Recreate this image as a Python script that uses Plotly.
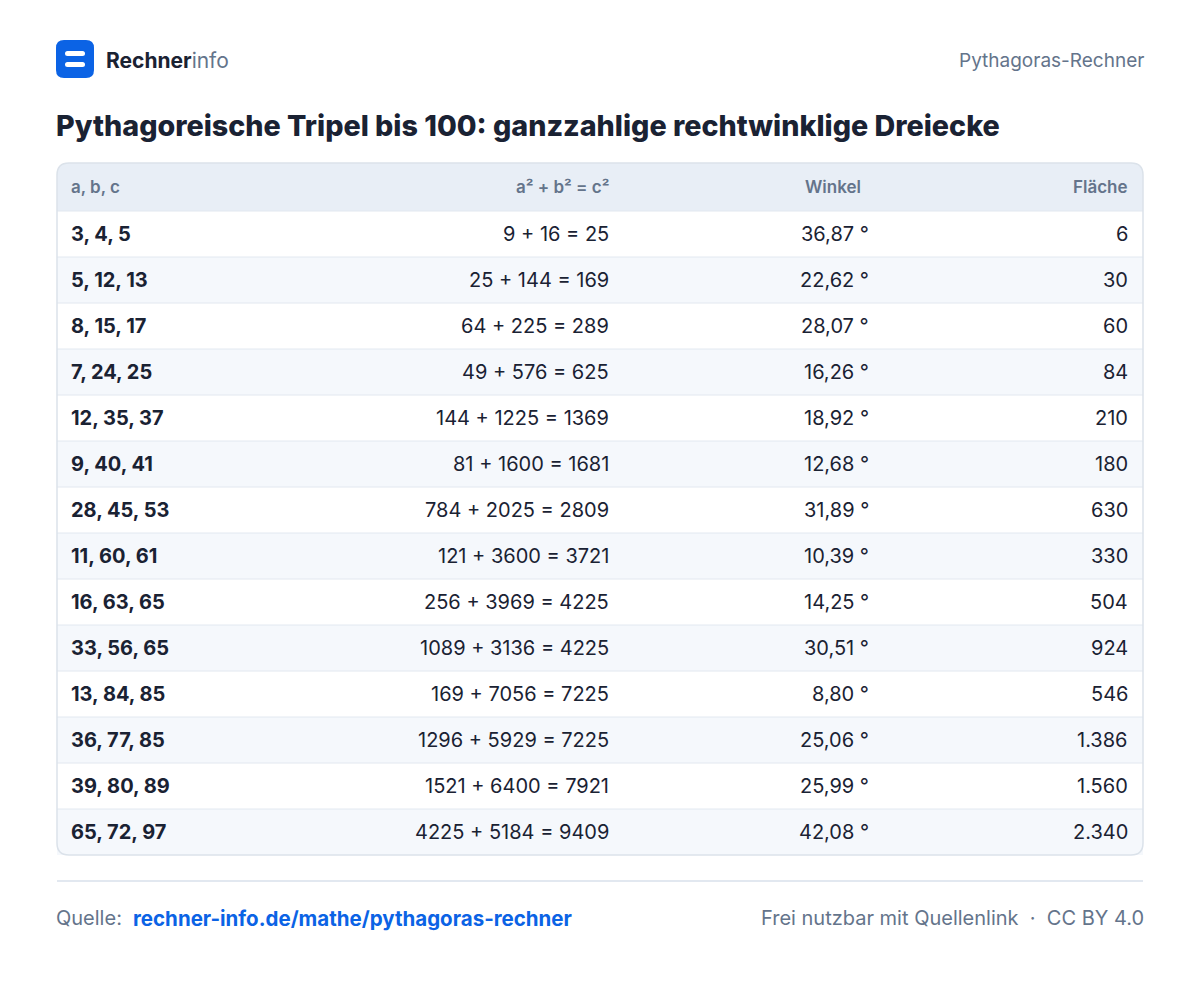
import plotly.graph_objects as go

triples = ["3, 4, 5","5, 12, 13","8, 15, 17","7, 24, 25","12, 35, 37","9, 40, 41","28, 45, 53",
           "11, 60, 61","16, 63, 65","33, 56, 65","13, 84, 85","36, 77, 85","39, 80, 89","65, 72, 97"]
equations = ["9 + 16 = 25","25 + 144 = 169","64 + 225 = 289","49 + 576 = 625","144 + 1225 = 1369",
             "81 + 1600 = 1681","784 + 2025 = 2809","121 + 3600 = 3721","256 + 3969 = 4225",
             "1089 + 3136 = 4225","169 + 7056 = 7225","1296 + 5929 = 7225","1521 + 6400 = 7921",
             "4225 + 5184 = 9409"]
angles = ["36,87 °","22,62 °","28,07 °","16,26 °","18,92 °","12,68 °","31,89 °","10,39 °","14,25 °",
          "30,51 °","8,80 °","25,06 °","25,99 °","42,08 °"]
areas = ["6","30","60","84","210","180","630","330","504","924","546","1.386","1.560","2.340"]
headers = ["a, b, c","a² + b² = c²","Winkel","Fläche"]

F = "Inter"
fig = go.Figure()
shapes, ann = [], []

def rr(x0, y0, x1, y1, r, **kw):
    p = (f"M{x0+r},{y0} L{x1-r},{y0} Q{x1},{y0} {x1},{y0+r} L{x1},{y1-r} Q{x1},{y1} {x1-r},{y1} "
         f"L{x0+r},{y1} Q{x0},{y1} {x0},{y1-r} L{x0},{y0+r} Q{x0},{y0} {x0+r},{y0} Z")
    return dict(type="path", path=p, xref="x", yref="y", **kw)

def txt(x, y, s, size, color, anchor="left", weight=400):
    ann.append(dict(x=x, y=y, xref="x", yref="y", text=s, showarrow=False,
                    xanchor=anchor, yanchor="middle", borderpad=0,
                    xshift=(-2 if anchor == "left" else 2),
                    font=dict(family=F, size=size, color=color, weight=weight)))

# logo
shapes.append(rr(56, 40, 94, 78, 8, fillcolor="#0b63e5", line=dict(width=0)))
shapes.append(rr(65, 51, 85, 56, 2.5, fillcolor="white", line=dict(width=0)))
shapes.append(rr(65, 62, 85, 67, 2.5, fillcolor="white", line=dict(width=0)))
txt(107, 60, "<b>Rechner</b><span style='color:#64748b'>info</span>", 21, "#1a2233")
txt(1143, 60, "Pythagoras-Rechner", 19, "#64748b", "right")
txt(57, 125, "Pythagoreische Tripel bis 100: ganzzahlige rechtwinklige Dreiecke", 28.7, "#1a2233", weight=800)

TX0, TX1, TY0, HH, RH = 57, 1143, 163, 48, 46
TY1 = TY0 + HH + RH * len(triples)
shapes.append(rr(TX0, TY0, TX1, TY1, 12, fillcolor="white", line=dict(width=0), layer="below"))
r = 12
hp = (f"M{TX0},{TY0+HH} L{TX0},{TY0+r} Q{TX0},{TY0} {TX0+r},{TY0} L{TX1-r},{TY0} Q{TX1},{TY0} {TX1},{TY0+r} "
      f"L{TX1},{TY0+HH} Z")
shapes.append(dict(type="path", path=hp, xref="x", yref="y", fillcolor="#e8eef6", line=dict(width=0), layer="below"))
cols = [(72, "left"), (608, "right"), (860, "right"), (1127, "right")]
for (x, a), h in zip(cols, headers):
    txt(x, TY0 + HH / 2, h, 17, "#64748b", a, weight=600)
vcols = [(72, "left"), (608, "right"), (868, "right"), (1127, "right")]
for i in range(len(triples)):
    y0 = TY0 + HH + i * RH
    if i % 2 == 1:
        shapes.append(dict(type="rect", x0=TX0, x1=TX1, y0=y0, y1=y0 + RH, xref="x", yref="y",
                           fillcolor="#f5f8fc", line=dict(width=0), layer="below"))
    shapes.append(dict(type="line", x0=TX0, x1=TX1, y0=y0, y1=y0, xref="x", yref="y",
                       line=dict(color="#e2e8f0", width=1)))
    yc = y0 + RH / 2
    vals = [triples[i], equations[i], angles[i], areas[i]]
    for j, ((x, a), v) in enumerate(zip(vcols, vals)):
        txt(x, yc, v, 20, "#1a2233", a, weight=(700 if j == 0 else 400))
shapes.append(rr(TX0, TY0, TX1, TY1, 12, fillcolor="rgba(0,0,0,0)", line=dict(color="#dbe2ea", width=1.5)))

shapes.append(dict(type="line", x0=57, x1=1143, y0=881, y1=881, xref="x", yref="y",
                   line=dict(color="#e2e8f0", width=2)))
txt(57, 918, "Quelle:", 20, "#64748b")
txt(134, 918, "rechner-info.de/mathe/pythagoras-rechner", 20.5, "#0b63e5", weight=700)
txt(1143, 918, "Frei nutzbar mit Quellenlink  ·  CC BY 4.0", 20, "#64748b", "right")

fig.update_layout(width=1200, height=1000, margin=dict(l=0, r=0, t=0, b=0),
                  paper_bgcolor="white", plot_bgcolor="white", shapes=shapes, annotations=ann,
                  xaxis=dict(range=[8, 1208], visible=False, fixedrange=True),
                  yaxis=dict(range=[1008, 8], visible=False, fixedrange=True), showlegend=False)
fig.write_html("out.html", config={"displayModeBar": False})
